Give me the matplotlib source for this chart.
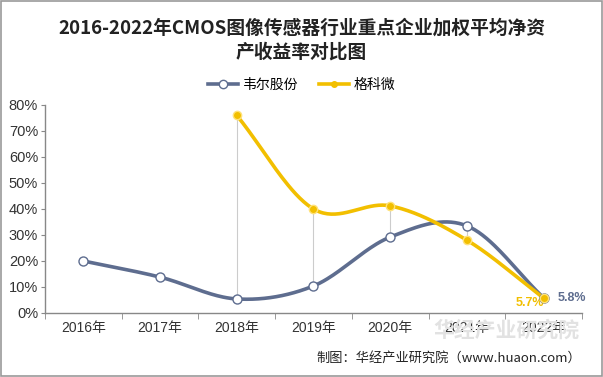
import matplotlib.pyplot as plt
import numpy as np

plt.rcParams['font.family'] = ['Liberation Sans', 'Noto Sans CJK SC', 'DejaVu Sans']

years = ["2016年", "2017年", "2018年", "2019年", "2020年", "2021年", "2022年"]
weier = [20.0, 13.8, 5.4, 10.4, 29.2, 33.5, 5.8]
geke = [None, None, 76.0, 40.0, 41.2, 28.0, 5.7]

c_weier = "#5E6D8F"
c_geke = "#F2BF00"


def smooth(xs, ys, n=40):
    # catmull-rom curve through the points, like the office smooth line
    xs = np.asarray(xs, float)
    ys = np.asarray(ys, float)
    px = np.concatenate([[2 * xs[0] - xs[1]], xs, [2 * xs[-1] - xs[-2]]])
    py = np.concatenate([[2 * ys[0] - ys[1]], ys, [2 * ys[-1] - ys[-2]]])
    outx, outy = [], []
    for i in range(1, len(px) - 2):
        t = np.linspace(0, 1, n)
        for p, out in ((px, outx), (py, outy)):
            p0, p1, p2, p3 = p[i - 1], p[i], p[i + 1], p[i + 2]
            out.extend(0.5 * (2 * p1 + (-p0 + p2) * t + (2 * p0 - 5 * p1 + 4 * p2 - p3) * t ** 2
                              + (-p0 + 3 * p1 - 3 * p2 + p3) * t ** 3))
    return np.array(outx), np.array(outy)


fig = plt.figure(figsize=(6.03, 3.77), dpi=100)
fig.patches.append(plt.Rectangle((0.002, 0.003), 0.996, 0.994, transform=fig.transFigure,
                                 fill=False, edgecolor="#999999", lw=1.2))
ax = fig.add_axes([0.0746, 0.1698, 0.8906, 0.5517])

x = np.arange(len(years))

# drop lines between the two series
for i in range(len(years) - 1):
    if geke[i] is not None:
        ax.plot([x[i], x[i]], [weier[i], geke[i]], color="#CCCCCC", lw=0.8, zorder=1)

sx, sy = smooth(x, weier)
ax.plot(sx, sy, color=c_weier, lw=2.6, zorder=3, solid_capstyle="round")
ax.plot(x, weier, "o", ms=6.5, mfc="white", mec=c_weier, mew=1.0, zorder=4)

gx = [x[i] for i in range(len(years)) if geke[i] is not None]
gy = [g for g in geke if g is not None]
sx, sy = smooth(gx, gy)
ax.plot(sx, sy, color=c_geke, lw=2.6, zorder=3, solid_capstyle="round")
ax.plot(gx, gy, "o", ms=6, mfc=c_geke, mec="#FFE27A", mew=1.0, zorder=4)

# legend handles
ax.plot([], [], "-o", color=c_weier, lw=2.6, ms=6, mfc="white", mec=c_weier, label="韦尔股份")
ax.plot([], [], "-o", color=c_geke, lw=2.6, ms=4, mfc=c_geke, mec=c_geke, label="格科微")
ax.legend(loc="center", bbox_to_anchor=(0.5, 0.776), bbox_transform=fig.transFigure, ncol=2,
          frameon=False, fontsize=10, handlelength=2.2, columnspacing=1.5, handletextpad=0.3,
          prop={"family": ["Noto Sans CJK SC"], "size": 10})

ax.text(x[-1] + 0.18, weier[-1], "%.1f%%" % weier[-1], color=c_weier, fontsize=9,
        fontweight="bold", va="center", ha="left")
ax.text(x[-1], geke[-1] - 1.9, "%.1f%%" % geke[-1], color=c_geke, fontsize=9,
        fontweight="bold", va="center", ha="right")

ax.set_xlim(-0.5, len(years) - 0.5)
ax.set_ylim(0, 80)
ax.set_yticks(range(0, 81, 10))
ax.set_yticklabels(["%d%%" % v for v in range(0, 81, 10)], fontsize=10.5, color="#333333")
ax.set_xticks(x)
ax.set_xticklabels(years, fontsize=10, color="#333333")
ax.set_xticks(np.arange(-0.5, len(years)), minor=True)
ax.tick_params(axis="x", which="major", length=0, pad=6)
ax.tick_params(axis="x", which="minor", length=4, color="#888888", direction="out")
ax.tick_params(axis="y", length=3, color="#888888", pad=2)
for s in ("top", "right"):
    ax.spines[s].set_visible(False)
for s in ("left", "bottom"):
    ax.spines[s].set_color("#888888")
    ax.spines[s].set_linewidth(1.0)

fig.text(0.5, 0.925, "2016-2022年CMOS图像传感器行业重点企业加权平均净资", ha="center", va="center",
         fontsize=13.5, fontweight="bold", color="#222222", family=["Noto Sans CJK SC"])
fig.text(0.5, 0.862, "产收益率对比图", ha="center", va="center",
         fontsize=13.5, fontweight="bold", color="#222222", family=["Noto Sans CJK SC"])

fig.text(0.84, 0.125, "华经产业研究院", ha="center", va="center", fontsize=15,
         fontweight="bold", color="#E2E2E2", zorder=0, family=["Noto Sans CJK SC"])
fig.text(0.963, 0.05, "制图：华经产业研究院（www.huaon.com）", ha="right", va="center",
         fontsize=9.5, color="#222222", family=["Noto Sans CJK SC"])

fig.savefig("out.png", dpi=100)
